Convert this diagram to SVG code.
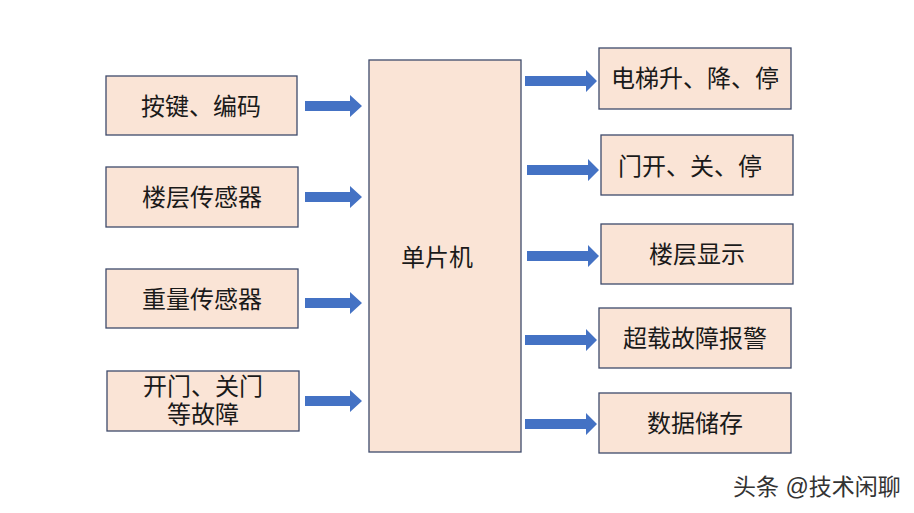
<svg xmlns="http://www.w3.org/2000/svg" width="914" height="513" viewBox="0 0 914 513">
<defs>
<style>
.box{fill:#FAE4D6;stroke:#3E4A6B;stroke-width:1.3}
.t{font-family:"Liberation Sans","Noto Sans CJK SC",sans-serif;font-size:24px;fill:#1a1a1a;text-anchor:middle;dominant-baseline:central}
.arr{fill:#4472C4}
.sig{font-family:"Liberation Sans","Noto Sans CJK SC",sans-serif;font-size:23px;fill:#333}
</style>
</defs>
<rect width="914" height="513" fill="#fff"/>
<g id="n1"><rect class="box" x="106" y="76" width="191" height="59"/><text class="t" x="201" y="106">按键、编码</text></g>
<g id="n2"><rect class="box" x="106" y="167" width="192" height="60"/><text class="t" x="202" y="197">楼层传感器</text></g>
<g id="n3"><rect class="box" x="106" y="269" width="192" height="59"/><text class="t" x="202" y="299">重量传感器</text></g>
<g id="n4"><rect class="box" x="107" y="371" width="192" height="60"/><text class="t" x="203" y="386">开门、关门</text><text class="t" x="203" y="414">等故障</text></g>
<g id="mcu"><rect class="box" x="369" y="60" width="152" height="392"/><text class="t" x="437" y="257">单片机</text></g>
<g id="o1"><rect class="box" x="599" y="48" width="192" height="61"/><text class="t" x="695" y="78">电梯升、降、停</text></g>
<g id="o2"><rect class="box" x="601" y="135" width="192" height="60"/><text class="t" x="690" y="166">门开、关、停</text></g>
<g id="o3"><rect class="box" x="601" y="224" width="192" height="60"/><text class="t" x="697" y="254">楼层显示</text></g>
<g id="o4"><rect class="box" x="599" y="308" width="192" height="60"/><text class="t" x="695" y="338">超载故障报警</text></g>
<g id="o5"><rect class="box" x="599" y="393" width="192" height="60"/><text class="t" x="695" y="423">数据储存</text></g>
<g id="connectors">
<path class="arr" d="M305,101 H350 V95 L362,106 L350,117 V111 H305 Z"/>
<path class="arr" d="M305,192 H350 V186 L362,197 L350,208 V202 H305 Z"/>
<path class="arr" d="M305,298 H350 V292 L362,303 L350,314 V308 H305 Z"/>
<path class="arr" d="M305,396 H350 V390 L362,401 L350,412 V406 H305 Z"/>
<path class="arr" d="M525,76 H586 V70 L597,81 L586,92 V86 H525 Z"/>
<path class="arr" d="M527,165 H588 V159 L599,170 L588,181 V175 H527 Z"/>
<path class="arr" d="M527,251 H588 V245 L599,256 L588,267 V261 H527 Z"/>
<path class="arr" d="M525,335 H586 V329 L597,340 L586,351 V345 H525 Z"/>
<path class="arr" d="M525,419 H586 V413 L597,424 L586,435 V429 H525 Z"/>
</g>
<text class="sig" x="733" y="495">头条 @技术闲聊</text>
</svg>
